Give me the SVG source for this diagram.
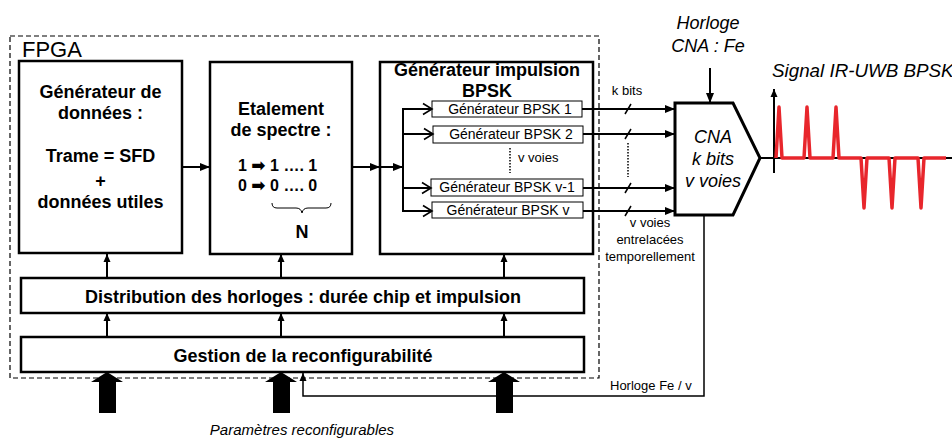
<svg xmlns="http://www.w3.org/2000/svg" width="952" height="439" viewBox="0 0 952 439">
<defs>
<style>
.t{font-family:"Liberation Sans",Arial,sans-serif;fill:#000}
.b{font-weight:bold;font-size:18px;text-anchor:middle}
.s{font-size:13px}
.sm{font-size:14px;text-anchor:middle}
.i{font-style:italic;font-size:18px;text-anchor:middle}
.box{fill:#fff;stroke:#000;stroke-width:2.5}
.sub{fill:#fff;stroke:#000;stroke-width:1}
.ln{fill:none;stroke:#000;stroke-width:2}
.thin{fill:none;stroke:#000;stroke-width:1.5}
</style>
<marker id="ah" markerUnits="userSpaceOnUse" markerWidth="12" markerHeight="10" refX="10" refY="5" orient="auto">
<path d="M0,1 L10,5 L0,9 Z" fill="#000"/>
</marker>
<marker id="ahs" markerUnits="userSpaceOnUse" markerWidth="10" markerHeight="8" refX="8" refY="4" orient="auto">
<path d="M0,0.5 L8,4 L0,7.5 Z" fill="#000"/>
</marker>
<marker id="chev" markerUnits="userSpaceOnUse" markerWidth="12" markerHeight="14" refX="10" refY="7" orient="auto">
<path d="M1,1.5 L10,7 L1,12.5" fill="none" stroke="#000" stroke-width="1.6"/>
</marker>
</defs>

<g id="fpga">
<rect x="10" y="36" width="589" height="342" fill="none" stroke="#000" stroke-width="1.2" stroke-dasharray="5,3"/>
<text class="t" x="22" y="57" font-size="22">FPGA</text>
</g>

<g id="generateur-donnees">
<rect class="box" x="19" y="61" width="163" height="192"/>
<text class="t b" x="100.5" y="98">Générateur de</text>
<text class="t b" x="100.5" y="119">données :</text>
<text class="t b" x="100.5" y="162">Trame = SFD</text>
<text class="t b" x="100.5" y="187">+</text>
<text class="t b" x="100.5" y="208">données utiles</text>
</g>

<g id="etalement">
<rect class="box" x="210" y="62" width="142" height="192"/>
<text class="t b" x="281" y="115">Etalement</text>
<text class="t b" x="281" y="136">de spectre :</text>
<text class="t" x="238" y="171" font-size="16" font-weight="bold">1 <tspan font-family="DejaVu Sans,sans-serif" font-size="17">➡</tspan> 1 …. 1</text>
<text class="t" x="238" y="191" font-size="16" font-weight="bold">0 <tspan font-family="DejaVu Sans,sans-serif" font-size="17">➡</tspan> 0 …. 0</text>
<path d="M272,203 Q272,208 277,208 L296,208 Q301,208 302,213 Q303,208 308,208 L326,208 Q331,208 331,203" fill="none" stroke="#000" stroke-width="1"/>
<text class="t b" x="302" y="238">N</text>
</g>

<g id="generateur-impulsion">
<rect class="box" x="380" y="62" width="213" height="192"/>
<text class="t b" x="487" y="76">Générateur impulsion</text>
<text class="t b" x="487" y="97">BPSK</text>
</g>

<g id="bpsk1">
<rect class="sub" x="432" y="101" width="150" height="16"/>
<text class="t sm" x="510" y="114">Générateur BPSK 1</text>
</g>
<g id="bpsk2">
<rect class="sub" x="433" y="126" width="150" height="17"/>
<text class="t sm" x="511" y="139">Générateur BPSK 2</text>
</g>
<g id="voies-label">
<line x1="510" y1="148" x2="510" y2="173" stroke="#000" stroke-width="1.5" stroke-dasharray="1.5,1.5"/>
<text class="t s" x="518" y="162">v voies</text>
</g>
<g id="bpskv1">
<rect class="sub" x="431" y="179" width="152" height="17"/>
<text class="t sm" x="507" y="192">Générateur BPSK v-1</text>
</g>
<g id="bpskv">
<rect class="sub" x="432" y="202" width="151" height="16"/>
<text class="t sm" x="508" y="215">Générateur BPSK v</text>
</g>

<g id="distribution">
<rect class="box" x="21" y="278" width="563" height="35"/>
<text class="t b" x="303" y="303">Distribution des horloges : durée chip et impulsion</text>
</g>

<g id="gestion">
<rect class="box" x="21" y="337" width="563" height="35"/>
<text class="t b" x="303" y="362">Gestion de la reconfigurabilité</text>
</g>

<g id="cna">
<polygon points="675,103 733,103 760,158 733,215 675,215" fill="#fff" stroke="#000" stroke-width="3"/>
<text class="t i" x="713" y="143">CNA</text>
<text class="t i" x="713" y="165">k bits</text>
<text class="t i" x="713" y="187">v voies</text>
</g>

<g id="horloge-cna">
<text class="t i" x="708" y="29">Horloge</text>
<text class="t i" x="708" y="52">CNA : Fe</text>
</g>

<g id="signal">
<text class="t" x="772" y="77" font-size="18.8" font-style="italic">Signal IR-UWB BPSK</text>
<line x1="774" y1="173" x2="774" y2="89" class="ln" marker-end="url(#ahs)"/>
<line x1="760" y1="158" x2="952" y2="158" stroke="#000" stroke-width="2"/>
<polyline points="776,158 779,107 782,158 804,158 807,107 810,158 833,158 836,107 839,158 861,158 864,208 867,158 889,158 892,208 895,158 918,158 921,208 924,158 946,158" fill="none" stroke="#e8262c" stroke-width="3.5" stroke-linejoin="round"/>
</g>

<g id="params">
<path d="M107,372 L123,382 L116,382 L116,413 L99,413 L99,382 L91,382 Z" fill="#000"/>
<path d="M281,372 L297,382 L290,382 L290,413 L273,413 L273,382 L265,382 Z" fill="#000"/>
<path d="M504,372 L520,382 L513,382 L513,413 L496,413 L496,382 L488,382 Z" fill="#000"/>
<text class="t" x="302" y="435" font-size="15" font-style="italic" text-anchor="middle">Paramètres reconfigurables</text>
</g>

<g id="labels">
<text class="t s" x="627" y="95" text-anchor="middle">k bits</text>
<text class="t s" x="650" y="227" text-anchor="middle">v voies</text>
<text class="t s" x="650" y="244" text-anchor="middle">entrelacées</text>
<text class="t s" x="650" y="261" text-anchor="middle">temporellement</text>
<text class="t s" x="610" y="390">Horloge Fe / v</text>
</g>

<g id="connectors">
<line class="ln" x1="182" y1="167" x2="210" y2="167" marker-end="url(#ah)"/>
<line class="ln" x1="352" y1="167" x2="380" y2="167" marker-end="url(#ah)"/>
<line class="ln" x1="380" y1="167" x2="403" y2="167" marker-end="url(#ah)"/>
<line class="ln" x1="403" y1="109" x2="403" y2="211"/>
<line class="ln" x1="402" y1="109" x2="432" y2="109" marker-end="url(#chev)"/>
<line class="ln" x1="402" y1="134" x2="433" y2="134" marker-end="url(#chev)"/>
<line class="ln" x1="402" y1="188" x2="431" y2="188" marker-end="url(#chev)"/>
<line class="ln" x1="402" y1="211" x2="432" y2="211" marker-end="url(#chev)"/>
<line class="ln" x1="582" y1="109" x2="675" y2="109" marker-end="url(#ah)"/>
<line class="ln" x1="583" y1="134" x2="675" y2="134" marker-end="url(#ah)"/>
<line class="ln" x1="583" y1="188" x2="675" y2="188" marker-end="url(#ah)"/>
<line class="ln" x1="583" y1="211" x2="675" y2="211" marker-end="url(#ah)"/>
<g stroke="#000" stroke-width="1.5">
<line x1="625" y1="114" x2="631" y2="104"/>
<line x1="625" y1="139" x2="631" y2="129"/>
<line x1="625" y1="193" x2="631" y2="183"/>
<line x1="625" y1="216" x2="631" y2="206"/>
</g>
<line x1="628" y1="143" x2="628" y2="177" stroke="#000" stroke-width="1.5" stroke-dasharray="1.5,1.5"/>
<line class="ln" x1="710" y1="68" x2="710" y2="103" marker-end="url(#ah)"/>
<polyline class="thin" points="704,215 704,396 303,396 303,373" marker-end="url(#ahs)"/>
<line class="ln" x1="107" y1="278" x2="107" y2="254" marker-end="url(#ahs)"/>
<line class="ln" x1="281" y1="278" x2="281" y2="254" marker-end="url(#ahs)"/>
<line class="ln" x1="504" y1="278" x2="504" y2="254" marker-end="url(#ahs)"/>
<line class="ln" x1="107" y1="337" x2="107" y2="313" marker-end="url(#ahs)"/>
<line class="ln" x1="281" y1="337" x2="281" y2="313" marker-end="url(#ahs)"/>
<line class="ln" x1="504" y1="337" x2="504" y2="313" marker-end="url(#ahs)"/>
</g>
</svg>
